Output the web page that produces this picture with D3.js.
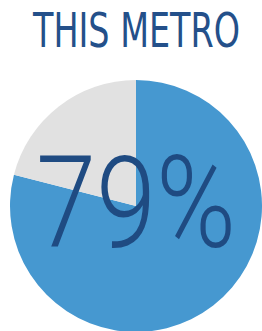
<!DOCTYPE html>
<html>
<head>
<meta charset="utf-8">
<script src="https://cdn.jsdelivr.net/npm/d3@7"></script>
<style>
  html, body { margin: 0; padding: 0; background: #ffffff; }
</style>
</head>
<body>
<div id="chart"></div>
<script>
// Chart values
const TITLE = "THIS METRO";
const CATEGORIES = ["This metro", "Other"];
const VALUES = [79, 21];
const COLORS = ["#4698d0", "#e1e1e1"];
const LABEL = "79%";

// Frame dimensions
const FRAME_WIDTH = 262;
const FRAME_HEIGHT = 331;
const RADIUS = 126;
const CENTER = {x: 136, y: 206};

const FRAME = d3.select("#chart")
                  .append("svg")
                    .attr("width", FRAME_WIDTH)
                    .attr("height", FRAME_HEIGHT);

// pie with first slice starting at 12 o'clock, going clockwise
const pie = d3.pie().sort(null).value((d) => { return d; });
const arc = d3.arc().innerRadius(0).outerRadius(RADIUS);

const color = d3.scaleOrdinal().domain(CATEGORIES).range(COLORS);

FRAME.append("g")
    .attr("transform", "translate(" + CENTER.x + "," + CENTER.y + ")")
    .selectAll("path")
    .data(pie(VALUES))
    .enter()
    .append("path")
      .attr("d", arc)
      .attr("fill", (d, i) => { return color(CATEGORIES[i]); });

// Title
FRAME.append("text")
    .attr("x", 33)
    .attr("y", 47)
    .attr("textLength", 207)
    .attr("lengthAdjust", "spacingAndGlyphs")
    .style("font-family", "'Liberation Sans Narrow', 'DejaVu Sans Condensed', sans-serif")
    .style("font-size", "48px")
    .style("fill", "#24508a")
    .text(TITLE);

// Big percentage
FRAME.append("text")
    .attr("x", 36)
    .attr("y", 247)
    .attr("textLength", 200)
    .attr("lengthAdjust", "spacingAndGlyphs")
    .style("font-family", "Roboto, 'DejaVu Sans Condensed', sans-serif")
    .style("font-weight", 300)
    .style("font-size", "128px")
    .style("fill", "#1f4b82")
    .text(LABEL);
</script>
</body>
</html>
